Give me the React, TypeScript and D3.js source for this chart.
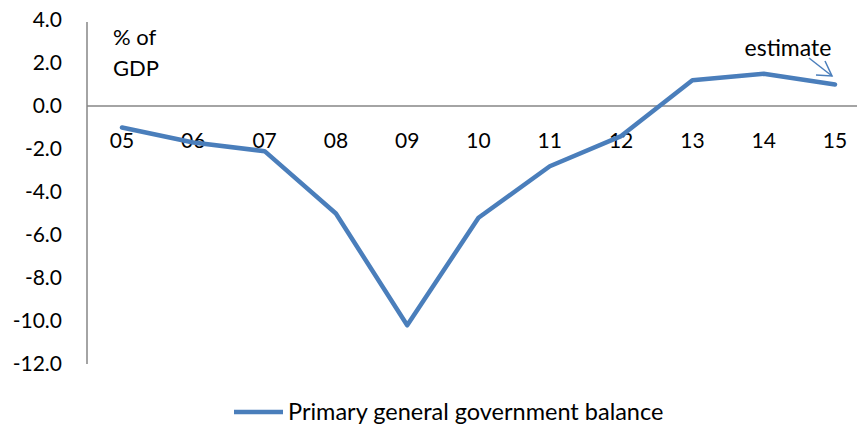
import React from 'react';
import * as d3 from 'd3';

const years = ['05', '06', '07', '08', '09', '10', '11', '12', '13', '14', '15'];
const balance = [-1.0, -1.7, -2.1, -5.0, -10.2, -5.2, -2.8, -1.4, 1.2, 1.5, 1.0];
const yTicks = [4, 2, 0, -2, -4, -6, -8, -10, -12];

const width = 857;
const height = 427;
const font = 'Lato, "Open Sans", sans-serif';
const blue = '#4a7ebb';

export default function App() {
  const x = d3.scalePoint<string>().domain(years).range([122, 835]);
  const y = d3.scaleLinear().domain([-12, 4]).range([364, 20]);

  const line = d3
    .line<number>()
    .x((_, i) => x(years[i]) as number)
    .y((d) => y(d));

  return (
    <svg
      width={width}
      height={height}
      style={{ position: 'absolute', left: 0, top: 0, background: '#fff' }}
      fontFamily={font}
    >
      {/* y axis */}
      <line x1={87} x2={87} y1={y(4) + 2} y2={y(-12)} stroke="#868686" strokeWidth={1.5} />
      {yTicks.map((t) => (
        <text key={t} x={62} y={y(t)} dy="0.35em" textAnchor="end" fontSize={21} fill="#000">
          {t.toFixed(1)}
        </text>
      ))}

      {/* zero line */}
      <line x1={87} x2={width} y1={y(0)} y2={y(0)} stroke="#868686" strokeWidth={1.5} />
      {years.map((yr) => (
        <text key={yr} x={x(yr)} y={141} dy="0.35em" textAnchor="middle" fontSize={21} fill="#000">
          {yr}
        </text>
      ))}

      <text x={113} y={37} dy="0.35em" fontSize={22} fill="#000">% of</text>
      <text x={113} y={68} dy="0.35em" fontSize={22} fill="#000">GDP</text>

      <path d={line(balance) ?? ''} fill="none" stroke={blue} strokeWidth={4.5} strokeLinejoin="round" strokeLinecap="round" />

      {/* estimate note */}
      <text x={788} y={48} dy="0.35em" textAnchor="middle" fontSize={23} fill="#000">estimate</text>
      <g stroke={blue} strokeWidth={1.5} fill="none">
        <line x1={809} y1={58} x2={832} y2={76} />
        <polyline points="825,61 832,76 816,75" />
      </g>

      {/* legend */}
      <line x1={234} x2={283} y1={412} y2={412} stroke={blue} strokeWidth={4.5} />
      <text x={288} y={412} dy="0.35em" fontSize={23.5} fill="#000">
        Primary general government balance
      </text>
    </svg>
  );
}
